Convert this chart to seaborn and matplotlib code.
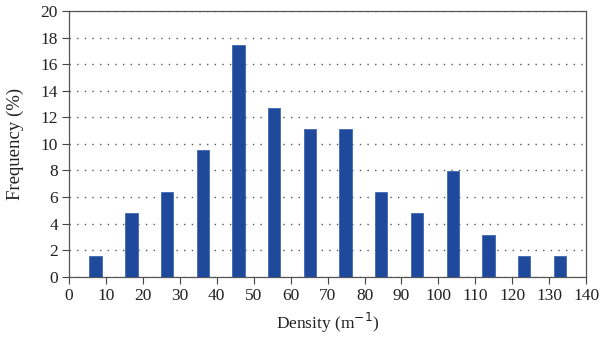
import matplotlib
matplotlib.use("Agg")
import matplotlib.pyplot as plt
import seaborn as sns
import numpy as np

# Data
density = [7.2, 16.9, 26.5, 36.2, 45.9, 55.5, 65.2, 74.9, 84.5, 94.2, 103.9, 113.5, 123.2, 132.9]
frequency = [1.59, 4.76, 6.35, 9.52, 17.46, 12.70, 11.11, 11.11, 6.35, 4.76, 7.94, 3.17, 1.59, 1.59]
x_ticks = list(range(0, 141, 10))
y_ticks = list(range(0, 21, 2))

sns.set_style("ticks")
plt.rcParams['font.family'] = ['Liberation Serif', 'DejaVu Serif']

fig = plt.figure(figsize=(6, 3.42), dpi=100)
ax = fig.add_axes([0.115, 0.191, 0.862, 0.777])

sns.barplot(x=density, y=frequency, native_scale=True, width=0.35,
            color="#1F4A9C", saturation=1, edgecolor="#4169B5", linewidth=0.6,
            ax=ax, zorder=3)

ax.set_xlim(0, 140)
ax.set_ylim(0, 20)
ax.set_xticks(x_ticks)
ax.set_yticks(y_ticks)
ax.tick_params(axis='both', labelsize=12.5, colors="#444444", length=5, width=0.8,
               direction='out', pad=3)
for t in ax.get_xticklabels() + ax.get_yticklabels():
    t.set_color("#222222")

ax.yaxis.grid(True, linestyle=(0, (1, 4.5)), color="#555555", linewidth=1.0, zorder=0)
ax.xaxis.grid(False)
for s in ax.spines.values():
    s.set_visible(True)
    s.set_color("#555555")
    s.set_linewidth(0.9)

ax.set_xlabel("Density (m$^{-1}$)", fontsize=12.5, color="#222222", labelpad=5)
ax.set_ylabel("Frequency (%)", fontsize=13.5, color="#222222", labelpad=12)

fig.savefig("out.png", dpi=100)
